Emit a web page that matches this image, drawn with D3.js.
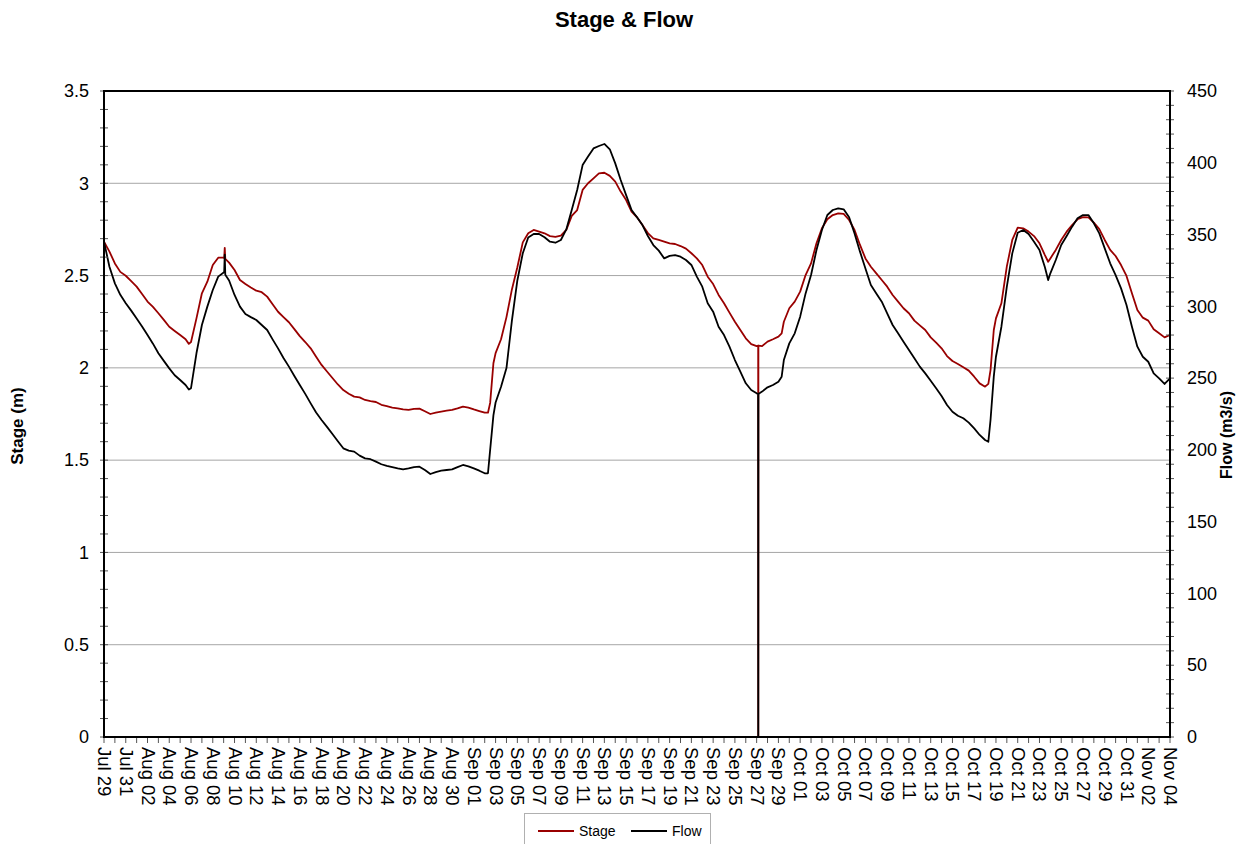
<!DOCTYPE html>
<html>
<head>
<meta charset="utf-8">
<script src="https://cdn.jsdelivr.net/npm/d3@7"></script>
<style>
  html, body { margin: 0; padding: 0; background: #fff; }
  svg { display: block; font-family: "Liberation Sans", Arial, sans-serif; }
</style>
</head>
<body>
<svg id="chart" width="1242" height="844"></svg>
<script>
// ---------- DATA ----------
const startDate = Date.UTC(2011, 6, 29); // Jul 29
const dayOffsets = [
  0,0.5,1,1.5,2,2.5,3,3.5,4,4.5,5,5.5,6,6.5,7,7.5,7.8,8,8.5,9,9.5,10,10.5,11,11.05,11.1,11.15,11.5,12,12.5,
  13,13.5,14,14.5,15,15.5,16,16.5,17,17.5,18,18.5,19,19.5,20,20.5,21,21.5,22,22.5,23,23.5,24,24.5,25,25.5,
  26,26.5,27,27.5,28,28.5,29,29.5,30,30.5,31,31.5,32,32.5,33,33.5,34,34.5,35,35.3,35.5,35.8,36,36.5,37,37.5,
  38,38.5,39,39.5,40,40.5,41,41.5,42,42.5,43,43.5,44,44.5,45,45.5,46,46.5,47,47.5,48,48.5,49,49.5,50,50.5,
  51,51.5,52,52.5,53,53.5,54,54.5,55,55.5,56,56.5,57,57.5,58,58.5,59,59.5,60,60.14,60.15,60.16,60.5,61,61.5,
  62,62.3,62.5,63,63.5,64,64.5,65,65.5,66,66.5,67,67.5,68,68.5,69,69.5,70,70.5,71,71.5,72,72.5,73,73.5,74,
  74.5,75,75.5,76,76.5,77,77.5,78,78.5,79,79.5,80,80.5,81,81.3,81.5,81.8,82,82.5,83,83.5,84,84.5,85,85.5,86,
  86.5,86.8,87,87.5,88,88.5,89,89.5,90,90.5,91,91.5,92,92.5,93,93.5,94,94.5,95,95.5,96,96.5,97,97.5,98
];
const stageValues = [
  2.684,2.63,2.566,2.52,2.499,2.47,2.44,2.40,2.359,2.33,2.296,2.26,2.223,2.20,2.178,2.155,2.13,2.14,2.268,2.404,2.467,2.557,2.597,2.598,2.595,2.65,2.59,2.57,2.53,2.476,
  2.454,2.435,2.418,2.41,2.386,2.345,2.304,2.275,2.247,2.21,2.172,2.14,2.106,2.06,2.016,1.98,1.945,1.91,1.88,1.86,1.844,1.84,1.826,1.82,1.815,1.80,
  1.793,1.785,1.781,1.775,1.772,1.778,1.779,1.765,1.750,1.758,1.763,1.768,1.772,1.78,1.79,1.785,1.775,1.766,1.757,1.757,1.81,2.025,2.08,2.155,2.275,2.425,
  2.545,2.68,2.729,2.747,2.738,2.729,2.714,2.71,2.717,2.747,2.823,2.855,2.964,3.0,3.027,3.054,3.057,3.04,3.009,2.955,2.909,2.846,2.816,2.774,2.73,2.702,
  2.693,2.684,2.675,2.671,2.66,2.646,2.621,2.593,2.557,2.494,2.454,2.395,2.35,2.299,2.25,2.205,2.16,2.129,2.118,2.12,0,2.12,2.118,2.142,2.155,
  2.169,2.187,2.25,2.323,2.359,2.413,2.503,2.566,2.675,2.756,2.805,2.828,2.837,2.834,2.801,2.747,2.666,2.593,2.548,2.512,2.476,2.44,2.395,2.359,2.323,2.296,
  2.256,2.23,2.205,2.165,2.137,2.106,2.064,2.037,2.021,2.003,1.985,1.952,1.916,1.898,1.913,1.988,2.205,2.268,2.35,2.55,2.693,2.76,2.756,2.738,2.714,2.675,
  2.611,2.575,2.593,2.639,2.693,2.738,2.774,2.805,2.817,2.815,2.787,2.752,2.693,2.639,2.606,2.557,2.498,2.404,2.313,2.272,2.256,2.209,2.187,2.165,2.178
];
const flowValues = [
  345,327.6,316,308,302.1,297,291.6,286,280,274,267.3,262,256.8,252,248.7,245.2,242,243,267.3,287,299.8,311.4,320.7,323.5,324,336,322,318,307.9,299.8,
  294.7,292.5,290.5,287,283.5,277,270.7,264,258,251.5,245.2,239,232.4,226,220.8,216,211.1,206,201.1,199.5,198.8,196,194.1,193.5,191.8,190,
  188.8,188,187.1,186.5,187.1,188,188.3,186,183.2,184.5,185.5,186,186.4,188,189.5,188.5,187.1,185.5,183.7,183.7,200,224,233,244,257,290,
  318,337,348,350.4,350.4,348.1,345,344.3,346.2,353.6,367.1,381,398.4,404.3,410,411.7,413.1,409.4,399.6,388,377.5,367.1,362,356.6,349,342.7,
  338.8,333.4,335.1,335.7,334.6,332.3,328.8,320.7,313.7,302.1,296.3,285.8,280,271.9,262.6,254.5,246.4,241.7,239.4,239,0,239,240.6,243.6,245.2,
  247.5,251,262.6,274.2,281.2,292.8,309,321.8,339.2,353.2,363.6,367.1,368.3,367.6,362,350.8,338.1,326.4,314.9,309,303.2,295.1,287,281.2,275.4,269.6,
  263.8,258,253.3,248.2,242.9,237.5,231.3,226.6,223.8,222,219,215,210.4,206.9,205.7,220.8,251,264.9,285.8,313.7,336.9,351.3,353.2,350.4,345,339.2,
  327.2,318.3,323,332.3,342.7,349,355.5,361.3,363.6,363.6,357.8,350.8,340.4,330,321.8,312.5,300.9,285.8,271.9,264.9,261.4,253.3,249.8,245.9,249.8
];
const stageTicks = [0, 0.5, 1, 1.5, 2, 2.5, 3, 3.5];
const flowTicks = [0, 50, 100, 150, 200, 250, 300, 350, 400, 450];
const xLabelDays = d3.range(0, 99, 2);   // every second day: Jul 29 ... Nov 04
const seriesNames = ["Stage", "Flow"];
const seriesColors = ["#990000", "#000000"];

// ---------- LAYOUT ----------
const svg = d3.select("#chart");
const L = 104, R = 1170, T = 91, B = 737;
const DAY = 86400000;
const toDate = d => new Date(startDate + d * DAY);

const x = d3.scaleUtc().domain([toDate(0), toDate(98)]).range([L, R]);
const yS = d3.scaleLinear().domain([0, 3.5]).range([B, T]);
const yF = d3.scaleLinear().domain([0, 450]).range([B, T]);

// gridlines
svg.append("g").selectAll("line").data(stageTicks.filter(v => v > 0 && v < 3.5)).join("line")
  .attr("x1", L).attr("x2", R).attr("y1", d => yS(d)).attr("y2", d => yS(d))
  .attr("stroke", "#a6a6a6").attr("stroke-width", 1);

// title
svg.append("text").attr("x", 624).attr("y", 27).attr("text-anchor", "middle")
  .attr("font-size", 22).attr("font-weight", "bold").text("Stage & Flow");

// lines
const pts = dayOffsets.map((d, i) => ({ t: toDate(d), s: stageValues[i], f: flowValues[i] }));
svg.append("path").datum(pts)
  .attr("fill", "none").attr("stroke", seriesColors[0]).attr("stroke-width", 1.8)
  .attr("stroke-linejoin", "round")
  .attr("d", d3.line().x(d => x(d.t)).y(d => yS(d.s)));
svg.append("path").datum(pts)
  .attr("fill", "none").attr("stroke", seriesColors[1]).attr("stroke-width", 1.8)
  .attr("stroke-linejoin", "round")
  .attr("d", d3.line().x(d => x(d.t)).y(d => yF(d.f)));

// minor ticks (left/right)
const tickCol = "#555";
svg.append("g").selectAll("line").data(d3.range(0, 36).map(i => i / 10)).join("line")
  .attr("x1", L - 4).attr("x2", L + 4).attr("y1", d => yS(d)).attr("y2", d => yS(d))
  .attr("stroke", tickCol).attr("stroke-width", 1);
svg.append("g").selectAll("line").data(d3.range(0, 46).map(i => i * 10)).join("line")
  .attr("x1", R - 4).attr("x2", R + 4).attr("y1", d => yF(d)).attr("y2", d => yF(d))
  .attr("stroke", tickCol).attr("stroke-width", 1);
// daily ticks on x
svg.append("g").selectAll("line").data(d3.range(0, 99)).join("line")
  .attr("x1", d => x(toDate(d))).attr("x2", d => x(toDate(d)))
  .attr("y1", B).attr("y2", B + 6)
  .attr("stroke", tickCol).attr("stroke-width", 1);

// axes labels via d3 axes (labels only)
const leftAxis = d3.axisLeft(yS).tickValues(stageTicks).tickFormat(d => String(d)).tickSize(0).tickPadding(15);
const gl = svg.append("g").attr("transform", `translate(${L},0)`).call(leftAxis);
const rightAxis = d3.axisRight(yF).tickValues(flowTicks).tickFormat(d => String(d)).tickSize(0).tickPadding(17);
const gr = svg.append("g").attr("transform", `translate(${R},0)`).call(rightAxis);
[gl, gr].forEach(g => {
  g.select(".domain").remove();
  g.selectAll("text").attr("font-size", 18).attr("fill", "#000")
    .attr("font-family", "'Liberation Sans', Arial, sans-serif");
});

const bottomAxis = d3.axisBottom(x).tickValues(xLabelDays.map(toDate))
  .tickFormat(d3.utcFormat("%b %d")).tickSize(0).tickPadding(0);
const gb = svg.append("g").attr("transform", `translate(0,${B})`).call(bottomAxis);
gb.select(".domain").remove();
gb.selectAll("text")
  .attr("font-size", 18.5).attr("fill", "#000")
  .attr("font-family", "'Liberation Sans', Arial, sans-serif")
  .attr("text-anchor", "start")
  .attr("transform", "translate(0,10) rotate(90)")
  .attr("x", 0).attr("y", 0).attr("dy", "0.35em");

// plot frame
svg.append("rect").attr("x", L).attr("y", T).attr("width", R - L).attr("height", B - T)
  .attr("fill", "none").attr("stroke", "#000").attr("stroke-width", 2);

// axis titles
svg.append("text").attr("transform", `translate(23,426) rotate(-90)`)
  .attr("text-anchor", "middle").attr("font-size", 17).attr("font-weight", "bold").text("Stage (m)");
svg.append("text").attr("transform", `translate(1232,435) rotate(-90)`)
  .attr("text-anchor", "middle").attr("font-size", 16).attr("font-weight", "bold").text("Flow (m3/s)");

// legend
const lg = svg.append("g");
lg.append("rect").attr("x", 524.5).attr("y", 813.5).attr("width", 186).attr("height", 40)
  .attr("fill", "#fff").attr("stroke", "#b0b0b0").attr("stroke-width", 1);
const legendX = [538, 631];
seriesNames.forEach((name, i) => {
  lg.append("line").attr("x1", legendX[i]).attr("x2", legendX[i] + 36)
    .attr("y1", 831).attr("y2", 831).attr("stroke", seriesColors[i]).attr("stroke-width", 2);
  lg.append("text").attr("x", legendX[i] + 41).attr("y", 836).attr("font-size", 14).text(name);
});
</script>
</body>
</html>
